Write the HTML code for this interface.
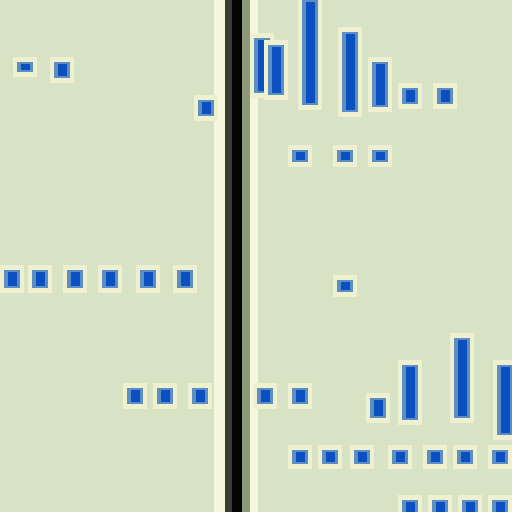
<!DOCTYPE html>
<html><head><meta charset="utf-8"><style>
html,body{margin:0;padding:0;background:#d8e3c6;}
svg{display:block}
</style></head><body>
<svg id="chart" width="512" height="512" viewBox="0 0 512 512">
<rect x="0" y="0" width="512" height="512" fill="#d8e3c6"/>
<rect x="214" y="0" width="11" height="512" fill="#f6f7df"/>
<rect x="225" y="0" width="9" height="512" fill="#3c3e36"/>
<rect x="232" y="0" width="10" height="512" fill="#050505"/>
<rect x="242" y="0" width="8" height="512" fill="#8d9a7a"/>
<rect x="250" y="0" width="8" height="512" fill="#f6f7df"/>
<g id="marks"></g>
</svg>
<script>
// blue marks: x center, y top, height
const markX = [62,25,206,262,276,310,350,380,410,445,300,345,380,12,40,75,110,148,185,345,135,165,200,265,300,378,410,462,505,300,330,362,400,435,465,500,410,440,470,500];
const markY = [62,62,100,38,45,0,32,62,88,88,150,150,150,270,270,270,270,270,270,280,388,388,388,388,388,398,365,338,365,450,450,450,450,450,450,450,500,500,500,500];
const markH = [16,10,16,55,50,105,80,45,16,16,12,12,12,18,18,18,18,18,18,12,16,16,16,16,16,20,55,80,70,14,14,14,14,14,14,14,14,14,14,14];
const g = document.getElementById('marks');
const NS = 'http://www.w3.org/2000/svg';
for (let i = 0; i < markX.length; i++) {
  const halo = document.createElementNS(NS, 'rect');
  halo.setAttribute('x', markX[i] - 12);
  halo.setAttribute('y', markY[i] - 5);
  halo.setAttribute('width', 24);
  halo.setAttribute('height', markH[i] + 10);
  halo.setAttribute('fill', '#eef0cf');
  
  
  g.appendChild(halo);
  const r = document.createElementNS(NS, 'rect');
  r.setAttribute('x', markX[i] - 8);
  r.setAttribute('y', markY[i]);
  r.setAttribute('width', 16);
  r.setAttribute('height', markH[i]);
  r.setAttribute('fill', '#5b8fc4');
  
  
  g.appendChild(r);
  const c = document.createElementNS(NS, 'rect');
  c.setAttribute('x', markX[i] - 4);
  c.setAttribute('y', markY[i] + 2);
  c.setAttribute('width', 9);
  c.setAttribute('height', Math.max(markH[i] - 4, 4));
  c.setAttribute('fill', '#0b4fc0');
  
  
  g.appendChild(c);
}
</script>
</body></html>
